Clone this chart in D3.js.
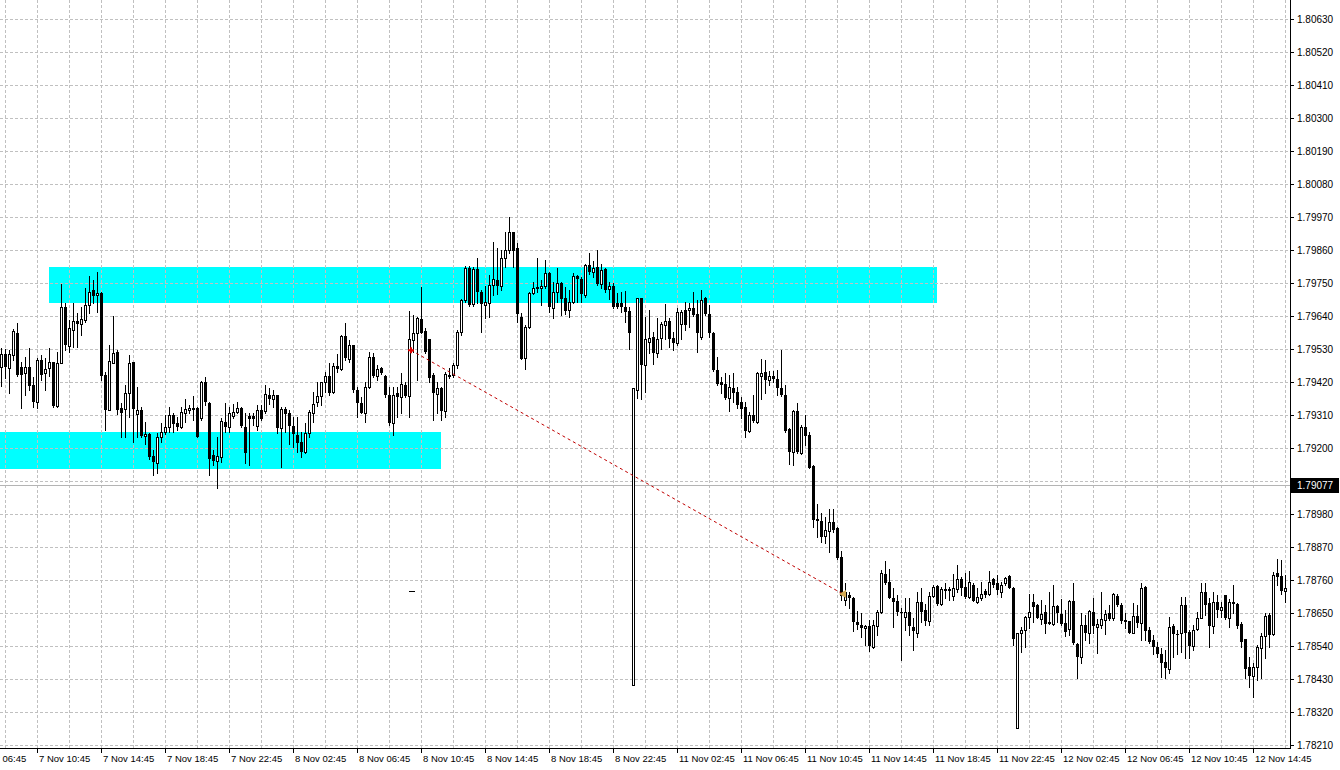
<!DOCTYPE html>
<html><head><meta charset="utf-8">
<script src="https://cdn.jsdelivr.net/npm/d3@7"></script>
<style>
html,body{margin:0;padding:0;background:#fff;overflow:hidden;}
svg{display:block;font-family:"Liberation Sans",Arial,sans-serif;font-size:10px;}
</style></head><body>
<svg id="chart" width="1340" height="770"></svg>
<script>
// ---- DATA (M15 bars) ----
const open = [
1.79470,1.79513,1.79465,1.79510,1.79582,1.79471,1.79449,1.79469,1.79410,1.79354,
1.79493,1.79449,1.79465,1.79487,1.79340,1.79482,1.79669,1.79540,1.79593,1.79623,
1.79615,1.79626,1.79676,1.79726,1.79710,1.79717,1.79443,1.79326,1.79484,1.79521,
1.79332,1.79329,1.79382,1.79485,1.79312,1.79326,1.79240,1.79246,1.79173,1.79151,
1.79235,1.79254,1.79269,1.79310,1.79282,1.79271,1.79317,1.79326,1.79335,1.79332,
1.79299,1.79419,1.79351,1.79176,1.79157,1.79171,1.79287,1.79271,1.79307,1.79321,
1.79334,1.79271,1.79307,1.79307,1.79274,1.79326,1.79324,1.79376,1.79365,1.79376,
1.79265,1.79329,1.79315,1.79274,1.79243,1.79221,1.79187,1.79249,1.79317,1.79352,
1.79374,1.79419,1.79440,1.79387,1.79473,1.79462,1.79573,1.79495,1.79543,1.79395,
1.79351,1.79317,1.79404,1.79502,1.79441,1.79467,1.79440,1.79376,1.79282,1.79382,
1.79371,1.79410,1.79374,1.79560,1.79582,1.79630,1.79591,1.79562,1.79443,1.79379,
1.79401,1.79324,1.79443,1.79443,1.79476,1.79586,1.79693,1.79801,1.79680,1.79796,
1.79720,1.79676,1.79682,1.79745,1.79760,1.79741,1.79835,1.79860,1.79919,1.79867,
1.79637,1.79501,1.79602,1.79715,1.79732,1.79732,1.79740,1.79782,1.79667,1.79719,
1.79749,1.79699,1.79660,1.79685,1.79773,1.79765,1.79710,1.79810,1.79787,1.79804,
1.79746,1.79796,1.79729,1.79741,1.79682,1.79682,1.79671,1.79656,1.78410,1.79393,
1.79699,1.79476,1.79554,1.79569,1.79515,1.79567,1.79610,1.79623,1.79567,1.79549,
1.79612,1.79659,1.79659,1.79665,1.79645,1.79571,1.79699,1.79645,1.79582,1.79460,
1.79421,1.79415,1.79367,1.79399,1.79387,1.79352,1.79337,1.79256,1.79310,1.79287,
1.79440,1.79452,1.79426,1.79441,1.79430,1.79399,1.79376,1.79263,1.79187,1.79324,
1.79182,1.79271,1.79243,1.79140,1.78964,1.78956,1.78907,1.78924,1.78954,1.78932,
1.78837,1.78693,1.78710,1.78700,1.78621,1.78610,1.78599,1.78607,1.78537,1.78607,
1.78652,1.78780,1.78752,1.78701,1.78690,1.78652,1.78637,1.78654,1.78604,1.78585,
1.78685,1.78660,1.78624,1.78707,1.78741,1.78679,1.78730,1.78730,1.78707,1.78729,
1.78765,1.78737,1.78704,1.78745,1.78687,1.78699,1.78723,1.78712,1.78763,1.78749,
1.78719,1.78749,1.78774,1.78734,1.78265,1.78585,1.78593,1.78635,1.78685,1.78676,
1.78630,1.78652,1.78621,1.78615,1.78674,1.78646,1.78617,1.78596,1.78690,1.78546,
1.78504,1.78610,1.78582,1.78654,1.78602,1.78610,1.78626,1.78651,1.78632,1.78706,
1.78676,1.78626,1.78623,1.78584,1.78640,1.78617,1.78737,1.78593,1.78560,1.78537,
1.78515,1.78487,1.78462,1.78606,1.78580,1.78584,1.78676,1.78587,1.78541,1.78596,
1.78634,1.78719,1.78682,1.78606,1.78687,1.78660,1.78710,1.78632,1.78685,1.78679,
1.78613,1.78562,1.78469,1.78440,1.78471,1.78535,1.78573,1.78643,1.78580,1.78784,
1.78773,1.78724];
const high = [
1.79535,1.79531,1.79526,1.79597,1.79617,1.79487,1.79504,1.79535,1.79437,1.79499,
1.79510,1.79499,1.79532,1.79487,1.79521,1.79746,1.79682,1.79626,1.79682,1.79649,
1.79671,1.79732,1.79773,1.79760,1.79787,1.79721,1.79454,1.79545,1.79640,1.79526,
1.79349,1.79410,1.79510,1.79487,1.79404,1.79337,1.79287,1.79251,1.79193,1.79251,
1.79282,1.79310,1.79337,1.79315,1.79304,1.79337,1.79362,1.79343,1.79375,1.79337,
1.79424,1.79437,1.79354,1.79193,1.79237,1.79299,1.79350,1.79337,1.79346,1.79352,
1.79337,1.79315,1.79315,1.79315,1.79343,1.79343,1.79410,1.79399,1.79393,1.79376,
1.79337,1.79337,1.79326,1.79304,1.79304,1.79254,1.79282,1.79326,1.79387,1.79421,
1.79421,1.79454,1.79482,1.79482,1.79513,1.79576,1.79617,1.79560,1.79543,1.79402,
1.79371,1.79421,1.79521,1.79515,1.79476,1.79471,1.79443,1.79404,1.79404,1.79404,
1.79451,1.79421,1.79656,1.79643,1.79637,1.79737,1.79599,1.79565,1.79449,1.79421,
1.79404,1.79454,1.79465,1.79482,1.79593,1.79696,1.79806,1.79806,1.79804,1.79834,
1.79726,1.79741,1.79776,1.79887,1.79865,1.79860,1.79921,1.79971,1.79921,1.79882,
1.79649,1.79610,1.79721,1.79754,1.79832,1.79760,1.79826,1.79787,1.79754,1.79799,
1.79754,1.79737,1.79726,1.79782,1.79776,1.79770,1.79812,1.79849,1.79823,1.79860,
1.79815,1.79800,1.79754,1.79749,1.79715,1.79721,1.79723,1.79671,1.79400,1.79699,
1.79701,1.79637,1.79660,1.79587,1.79632,1.79619,1.79680,1.79632,1.79587,1.79665,
1.79660,1.79687,1.79682,1.79721,1.79693,1.79726,1.79704,1.79676,1.79587,1.79504,
1.79437,1.79449,1.79443,1.79449,1.79404,1.79371,1.79354,1.79320,1.79376,1.79454,
1.79496,1.79493,1.79456,1.79456,1.79460,1.79526,1.79410,1.79266,1.79326,1.79349,
1.79276,1.79310,1.79254,1.79143,1.79015,1.78983,1.78971,1.78996,1.78996,1.78936,
1.78857,1.78749,1.78721,1.78704,1.78656,1.78649,1.78610,1.78626,1.78626,1.78660,
1.78793,1.78824,1.78796,1.78732,1.78710,1.78665,1.78701,1.78699,1.78632,1.78719,
1.78734,1.78679,1.78719,1.78743,1.78743,1.78737,1.78749,1.78737,1.78779,1.78810,
1.78771,1.78782,1.78790,1.78749,1.78732,1.78754,1.78729,1.78790,1.78767,1.78776,
1.78754,1.78771,1.78776,1.78737,1.78585,1.78604,1.78640,1.78712,1.78715,1.78679,
1.78693,1.78676,1.78719,1.78743,1.78676,1.78695,1.78660,1.78693,1.78749,1.78549,
1.78649,1.78643,1.78660,1.78701,1.78629,1.78721,1.78660,1.78676,1.78717,1.78712,
1.78682,1.78649,1.78623,1.78682,1.78676,1.78749,1.78739,1.78604,1.78576,1.78554,
1.78532,1.78526,1.78637,1.78613,1.78593,1.78704,1.78704,1.78593,1.78610,1.78654,
1.78751,1.78749,1.78699,1.78721,1.78710,1.78687,1.78710,1.78695,1.78743,1.78682,
1.78621,1.78565,1.78504,1.78482,1.78543,1.78584,1.78649,1.78651,1.78787,1.78829,
1.78826,1.78776];
const low = [
1.79406,1.79435,1.79382,1.79493,1.79440,1.79332,1.79376,1.79395,1.79337,1.79332,
1.79426,1.79395,1.79440,1.79337,1.79337,1.79482,1.79526,1.79521,1.79537,1.79537,
1.79576,1.79621,1.79649,1.79682,1.79654,1.79426,1.79260,1.79326,1.79484,1.79313,
1.79237,1.79237,1.79304,1.79221,1.79237,1.79237,1.79215,1.79165,1.79110,1.79117,
1.79221,1.79246,1.79254,1.79254,1.79260,1.79265,1.79287,1.79315,1.79293,1.79237,
1.79293,1.79343,1.79110,1.79143,1.79065,1.79153,1.79254,1.79254,1.79299,1.79315,
1.79271,1.79149,1.79145,1.79276,1.79260,1.79293,1.79315,1.79346,1.79337,1.79249,
1.79137,1.79254,1.79215,1.79204,1.79187,1.79171,1.79182,1.79237,1.79287,1.79340,
1.79343,1.79387,1.79376,1.79382,1.79454,1.79460,1.79493,1.79487,1.79387,1.79304,
1.79315,1.79287,1.79399,1.79437,1.79426,1.79446,1.79371,1.79276,1.79243,1.79304,
1.79315,1.79371,1.79304,1.79521,1.79426,1.79582,1.79515,1.79421,1.79293,1.79315,
1.79293,1.79304,1.79432,1.79437,1.79465,1.79576,1.79687,1.79674,1.79674,1.79683,
1.79586,1.79634,1.79637,1.79710,1.79712,1.79726,1.79804,1.79849,1.79804,1.79621,
1.79496,1.79463,1.79601,1.79712,1.79719,1.79676,1.79732,1.79654,1.79634,1.79687,
1.79643,1.79645,1.79637,1.79682,1.79687,1.79687,1.79704,1.79779,1.79771,1.79743,
1.79732,1.79721,1.79695,1.79665,1.79667,1.79654,1.79621,1.79530,1.78410,1.79366,
1.79365,1.79387,1.79515,1.79480,1.79503,1.79530,1.79565,1.79537,1.79526,1.79545,
1.79562,1.79593,1.79604,1.79641,1.79521,1.79565,1.79643,1.79569,1.79456,1.79410,
1.79382,1.79365,1.79323,1.79352,1.79332,1.79301,1.79237,1.79252,1.79286,1.79282,
1.79365,1.79382,1.79410,1.79421,1.79376,1.79374,1.79254,1.79146,1.79145,1.79182,
1.79180,1.79210,1.79132,1.78937,1.78902,1.78887,1.78882,1.78854,1.78921,1.78830,
1.78693,1.78676,1.78668,1.78591,1.78596,1.78571,1.78543,1.78523,1.78534,1.78576,
1.78649,1.78746,1.78699,1.78604,1.78643,1.78493,1.78593,1.78576,1.78526,1.78571,
1.78621,1.78610,1.78610,1.78704,1.78676,1.78676,1.78699,1.78693,1.78693,1.78721,
1.78710,1.78699,1.78699,1.78690,1.78682,1.78693,1.78704,1.78710,1.78737,1.78715,
1.78704,1.78745,1.78732,1.78545,1.78265,1.78521,1.78537,1.78601,1.78621,1.78632,
1.78615,1.78585,1.78613,1.78610,1.78621,1.78610,1.78573,1.78576,1.78546,1.78432,
1.78484,1.78560,1.78551,1.78584,1.78517,1.78599,1.78580,1.78626,1.78626,1.78673,
1.78617,1.78599,1.78582,1.78582,1.78602,1.78560,1.78560,1.78549,1.78515,1.78504,
1.78437,1.78432,1.78449,1.78504,1.78515,1.78521,1.78499,1.78499,1.78526,1.78593,
1.78632,1.78643,1.78537,1.78582,1.78637,1.78637,1.78630,1.78604,1.78649,1.78599,
1.78537,1.78432,1.78404,1.78371,1.78426,1.78432,1.78499,1.78537,1.78576,1.78743,
1.78715,1.78687];
const close = [
1.79513,1.79469,1.79513,1.79590,1.79443,1.79443,1.79469,1.79406,1.79354,1.79493,
1.79443,1.79462,1.79487,1.79340,1.79484,1.79669,1.79543,1.79599,1.79623,1.79615,
1.79629,1.79676,1.79721,1.79706,1.79717,1.79440,1.79326,1.79490,1.79517,1.79326,
1.79317,1.79382,1.79482,1.79329,1.79326,1.79240,1.79246,1.79169,1.79154,1.79237,
1.79254,1.79271,1.79310,1.79280,1.79271,1.79319,1.79329,1.79335,1.79326,1.79237,
1.79421,1.79352,1.79165,1.79157,1.79173,1.79290,1.79271,1.79315,1.79319,1.79332,
1.79274,1.79182,1.79296,1.79296,1.79326,1.79295,1.79379,1.79365,1.79376,1.79265,
1.79329,1.79312,1.79274,1.79245,1.79217,1.79187,1.79251,1.79319,1.79346,1.79373,
1.79419,1.79440,1.79384,1.79473,1.79462,1.79573,1.79499,1.79545,1.79393,1.79351,
1.79317,1.79404,1.79502,1.79441,1.79463,1.79449,1.79376,1.79282,1.79376,1.79369,
1.79412,1.79374,1.79562,1.79582,1.79632,1.79585,1.79521,1.79434,1.79382,1.79401,
1.79324,1.79445,1.79436,1.79476,1.79587,1.79693,1.79801,1.79676,1.79796,1.79721,
1.79679,1.79686,1.79743,1.79763,1.79741,1.79835,1.79860,1.79919,1.79857,1.79645,
1.79496,1.79604,1.79715,1.79732,1.79737,1.79740,1.79782,1.79671,1.79721,1.79749,
1.79696,1.79656,1.79685,1.79773,1.79765,1.79712,1.79810,1.79787,1.79799,1.79746,
1.79793,1.79726,1.79740,1.79669,1.79669,1.79671,1.79654,1.79582,1.79400,1.79699,
1.79476,1.79563,1.79568,1.79515,1.79565,1.79612,1.79623,1.79562,1.79549,1.79654,
1.79652,1.79610,1.79665,1.79643,1.79585,1.79693,1.79645,1.79582,1.79460,1.79412,
1.79410,1.79367,1.79404,1.79385,1.79343,1.79330,1.79256,1.79310,1.79290,1.79451,
1.79451,1.79426,1.79441,1.79430,1.79399,1.79376,1.79256,1.79187,1.79324,1.79187,
1.79271,1.79241,1.79134,1.78960,1.78956,1.78903,1.78926,1.78954,1.78926,1.78832,
1.78706,1.78721,1.78699,1.78621,1.78609,1.78599,1.78607,1.78541,1.78610,1.78652,
1.78782,1.78749,1.78701,1.78687,1.78652,1.78649,1.78654,1.78607,1.78590,1.78687,
1.78652,1.78624,1.78707,1.78737,1.78679,1.78729,1.78723,1.78723,1.78732,1.78765,
1.78732,1.78704,1.78754,1.78691,1.78702,1.78715,1.78710,1.78754,1.78743,1.78726,
1.78745,1.78767,1.78734,1.78565,1.78585,1.78593,1.78635,1.78652,1.78671,1.78634,
1.78645,1.78615,1.78615,1.78674,1.78649,1.78613,1.78587,1.78690,1.78551,1.78504,
1.78610,1.78582,1.78657,1.78606,1.78613,1.78630,1.78646,1.78630,1.78712,1.78676,
1.78623,1.78621,1.78584,1.78641,1.78617,1.78732,1.78591,1.78554,1.78537,1.78515,
1.78484,1.78465,1.78604,1.78580,1.78576,1.78676,1.78584,1.78541,1.78595,1.78634,
1.78719,1.78676,1.78606,1.78687,1.78660,1.78669,1.78632,1.78685,1.78680,1.78606,
1.78554,1.78462,1.78440,1.78471,1.78537,1.78573,1.78640,1.78576,1.78776,1.78771,
1.78724,1.78732];

const priceTicks = [1.80630,1.80520,1.80410,1.80300,1.80190,1.80080,1.79970,1.79860,
  1.79750,1.79640,1.79530,1.79420,1.79310,1.79200,1.79090,1.78980,1.78870,1.78760,
  1.78650,1.78540,1.78430,1.78320,1.78210];
const timeLabels = ["7 Nov 06:45","7 Nov 10:45","7 Nov 14:45","7 Nov 18:45","7 Nov 22:45",
  "8 Nov 02:45","8 Nov 06:45","8 Nov 10:45","8 Nov 14:45","8 Nov 18:45","8 Nov 22:45",
  "11 Nov 02:45","11 Nov 06:45","11 Nov 10:45","11 Nov 14:45","11 Nov 18:45","11 Nov 22:45",
  "12 Nov 02:45","12 Nov 06:45","12 Nov 10:45","12 Nov 14:45"];
const timeLabelBars = [-7,9,25,41,57,73,89,105,121,137,153,169,185,201,217,233,249,265,281,297,313];
const gridBars = [1,9,17,25,33,41,49,57,65,73,81,89,97,105,113,121,129,137,145,153,161,169,
  177,185,193,201,209,217,225,233,241,249,257,265,273,281,289,297,305,313,321];
const zoneBars = [[12,234],[-1.5,110]];
const zonePrices = [[1.79803,1.79683],[1.79253,1.79130]];
const trendBars = [102.5,210.5];
const trendPrices = [1.79526,1.78713];
const dashBars = [102,103.6];
const dashPrice = 1.78723;
const bidPrice = 1.79077;

// ---- LAYOUT ----
const W = 1340, H = 770, plotR = 1290, plotB = 748;
const svg = d3.select("#chart");
const x = d3.scaleLinear().domain([0, 321]).range([1, 1285]);
const y = d3.scaleLinear().domain([1.78210, 1.80630]).range([745, 19]);
const px = v => Math.round(x(v));
const py = v => Math.round(y(v));

svg.append("rect").attr("width", W).attr("height", H).attr("fill", "#fff");
svg.append("defs").append("clipPath").attr("id","plot")
  .append("rect").attr("x",0).attr("y",0).attr("width",plotR).attr("height",plotB);

const plot = svg.append("g").attr("clip-path","url(#plot)");

// zones (background objects)
plot.append("g").selectAll("rect").data(zoneBars).join("rect")
  .attr("x", (d) => Math.max(0, px(d[0])))
  .attr("width", (d) => px(d[1]) - Math.max(0, px(d[0])))
  .attr("y", (d,i) => py(zonePrices[i][0]))
  .attr("height", (d,i) => py(zonePrices[i][1]) - py(zonePrices[i][0]))
  .attr("fill", "#00ffff");

// grid
const grid = plot.append("g").attr("stroke","#c0c0c0").attr("stroke-dasharray","3,2")
  .attr("shape-rendering","crispEdges");
grid.selectAll("line.h").data(priceTicks).join("line").attr("class","h")
  .attr("x1",0).attr("x2",plotR)
  .attr("y1",d=>py(d)+0.5).attr("y2",d=>py(d)+0.5);
grid.selectAll("line.v").data(gridBars).join("line").attr("class","v")
  .attr("x1",d=>px(d)+0.5).attr("x2",d=>px(d)+0.5)
  .attr("y1",0).attr("y2",plotB);

// bid line
plot.append("line").attr("x1",0).attr("x2",plotR)
  .attr("y1",py(bidPrice)+0.5).attr("y2",py(bidPrice)+0.5)
  .attr("stroke","#b4b4b4").attr("shape-rendering","crispEdges");

// candles
const bars = d3.range(open.length).map(i => ({i, o:open[i], h:high[i], l:low[i], c:close[i]}));
const cg = plot.append("g").attr("shape-rendering","crispEdges");
cg.selectAll("line").data(bars).join("line")
  .attr("x1",d=>px(d.i)+0.5).attr("x2",d=>px(d.i)+0.5)
  .attr("y1",d=>py(Math.max(d.h,d.o,d.c))).attr("y2",d=>py(Math.min(d.l,d.o,d.c))+1)
  .attr("stroke","#000");
cg.selectAll("rect").data(bars).join("rect")
  .each(function(d){
    const t = py(Math.max(d.o,d.c)), b = py(Math.min(d.o,d.c));
    const r = d3.select(this);
    if (d.c > d.o) {
      r.attr("x",px(d.i)-1+0.5).attr("y",t+0.5).attr("width",2).attr("height",Math.max(b-t,1))
       .attr("fill","#fff").attr("stroke","#000");
    } else {
      r.attr("x",px(d.i)-1).attr("y",t).attr("width",3).attr("height",Math.max(b-t,1))
       .attr("fill","#000");
    }
  });

// trend line and markers
plot.append("line")
  .attr("x1",x(trendBars[0])).attr("y1",y(trendPrices[0]))
  .attr("x2",x(trendBars[1])).attr("y2",y(trendPrices[1]))
  .attr("stroke","#c00000").attr("stroke-width",1).attr("stroke-dasharray","3,3");
{
  const sx = x(trendBars[0]), sy = y(trendPrices[0]);
  plot.append("path")
    .attr("d",`M${sx-3},${sy}L${sx+3},${sy}M${sx},${sy-3}L${sx},${sy+3}`)
    .attr("stroke","#e00000").attr("stroke-width",2);
  const ex = x(trendBars[1]), ey = y(trendPrices[1]);
  plot.append("path")
    .attr("d",`M${ex-4},${ey}L${ex+3},${ey-4}L${ex+3},${ey+4}Z`)
    .attr("fill","#d4aa55");
}
plot.append("line")
  .attr("x1",px(dashBars[0])).attr("x2",px(dashBars[1]))
  .attr("y1",py(dashPrice)+0.5).attr("y2",py(dashPrice)+0.5)
  .attr("stroke","#000").attr("shape-rendering","crispEdges");

// axes
const ax = svg.append("g").attr("shape-rendering","crispEdges");
ax.append("line").attr("x1",plotR+0.5).attr("x2",plotR+0.5).attr("y1",0).attr("y2",plotB+1).attr("stroke","#000");
ax.append("line").attr("x1",0).attr("x2",plotR+1).attr("y1",plotB+0.5).attr("y2",plotB+0.5).attr("stroke","#000");
ax.selectAll("line.yt").data(priceTicks).join("line").attr("class","yt")
  .attr("x1",plotR).attr("x2",plotR+4).attr("y1",d=>py(d)+0.5).attr("y2",d=>py(d)+0.5).attr("stroke","#000");
// price labels (the one hidden under the bid label is not written)
svg.append("g").selectAll("text")
  .data(priceTicks.filter(p => Math.abs(py(p) - py(bidPrice)) > 8)).join("text")
  .attr("x",plotR+7).attr("y",d=>py(d)+4).attr("fill","#000")
  .text(d=>d.toFixed(5));
ax.selectAll("line.xt").data(timeLabelBars).join("line").attr("class","xt")
  .attr("x1",d=>px(d)+0.5).attr("x2",d=>px(d)+0.5).attr("y1",plotB).attr("y2",plotB+5).attr("stroke","#000");
svg.append("g").attr("font-size","9.5px").selectAll("text").data(timeLabels).join("text")
  .attr("x",(d,i)=>px(timeLabelBars[i])+2).attr("y",762).attr("fill","#000")
  .text(d=>d);

// bid price label
svg.append("rect").attr("x",plotR+1).attr("y",py(bidPrice)-7).attr("width",48).attr("height",15).attr("fill","#000");
svg.append("text").attr("x",plotR+7).attr("y",py(bidPrice)+4).attr("fill","#fff").text(bidPrice.toFixed(5));
</script>
</body></html>
